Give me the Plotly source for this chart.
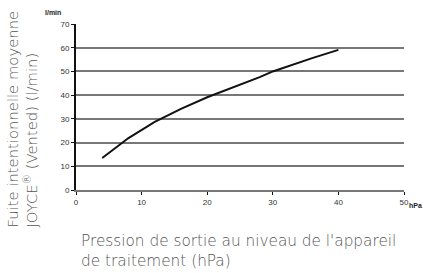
import plotly.graph_objects as go

pressure_hpa = [4, 8, 12, 16, 20, 24, 28, 30, 32, 36, 40]
flow_lpm = [13.5, 21.9, 28.7, 34.2, 39.1, 43.3, 47.6, 50.0, 51.9, 55.6, 59.1]
x_ticks = [0, 10, 20, 30, 40, 50]
y_ticks = [0, 10, 20, 30, 40, 50, 60, 70]

fig = go.Figure()
fig.add_trace(go.Scatter(x=pressure_hpa, y=flow_lpm, mode="lines",
                         line=dict(color="#111111", width=2),
                         showlegend=False, hoverinfo="skip"))

tickfont = dict(family="Liberation Sans, Arial, sans-serif", size=8, color="#333333")
fig.update_layout(
    width=427, height=273,
    margin=dict(l=76, r=23, t=24, b=83),
    paper_bgcolor="white", plot_bgcolor="white",
    xaxis=dict(range=[0, 50], tickvals=x_ticks, showgrid=False, zeroline=False,
               showline=True, linecolor="#777777", linewidth=2,
               ticks="outside", ticklen=3, tickcolor="#111111", tickwidth=1,
               tickfont=tickfont, fixedrange=True),
    yaxis=dict(range=[0, 70], tickvals=y_ticks, showgrid=True, gridcolor="#777777", gridwidth=2,
               zeroline=False, showline=True, linecolor="#111111", linewidth=2,
               ticks="outside", ticklen=3, tickcolor="#111111", tickwidth=1,
               tickfont=tickfont, fixedrange=True),
    font=dict(family="DejaVu Sans, sans-serif"),
)

fig.add_annotation(text="<b>l/min</b>", xref="paper", yref="paper", x=0, y=1,
                   xanchor="right", yanchor="bottom", xshift=-13, yshift=6,
                   showarrow=False, font=dict(family="Liberation Sans, Arial", size=7, color="#222222"))
fig.add_annotation(text="<b>hPa</b>", xref="paper", yref="paper", x=1, y=0,
                   xanchor="left", yanchor="top", xshift=3, yshift=-10,
                   showarrow=False, font=dict(family="Liberation Sans, Arial", size=7, color="#222222"))
fig.add_annotation(text="Fuite intentionnelle moyenne<br>JOYCE<sup>®</sup> (Vented) (l/min)",
                   xref="paper", yref="paper", x=0, y=0, xanchor="center", yanchor="bottom",
                   xshift=-55, yshift=-40, textangle=-90, showarrow=False, align="left",
                   font=dict(family="DejaVu Sans, sans-serif", size=14.8, color="#555555", weight=200))
fig.add_annotation(text="Pression de sortie au niveau de l'appareil<br>de traitement (hPa)",
                   xref="paper", yref="paper", x=0, y=0, xanchor="left", yanchor="middle",
                   xshift=3, yshift=-61, showarrow=False, align="left",
                   font=dict(family="DejaVu Sans, sans-serif", size=15.3, color="#555555", weight=200))

fig.write_html("out.html", config={"displayModeBar": False},
               post_script="document.body.style.margin='0px';")
